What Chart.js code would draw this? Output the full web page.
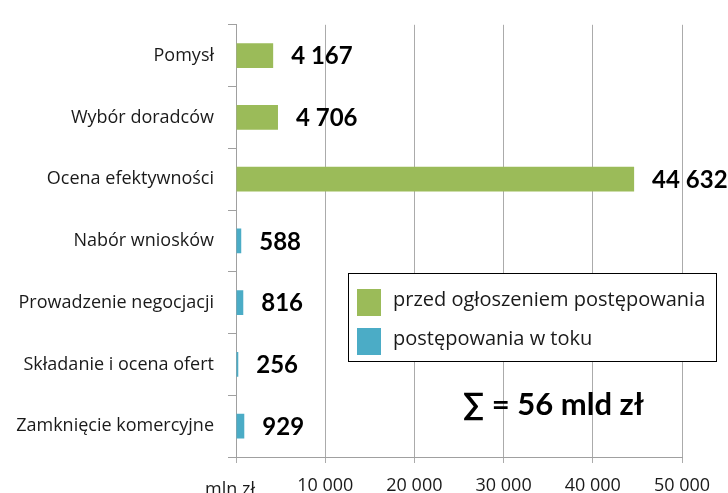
<!DOCTYPE html>
<html>
<head>
<meta charset="utf-8">
<script src="https://cdn.jsdelivr.net/npm/chart.js@4/dist/chart.umd.min.js"></script>
<style>
html,body{margin:0;padding:0;background:#fff;}
#wrap{width:728px;height:493px;position:relative;}
</style>
</head>
<body>
<div id="wrap"><canvas id="c" width="728" height="493"></canvas></div>
<script>
const categories = ["Pomysł","Wybór doradców","Ocena efektywności","Nabór wniosków","Prowadzenie negocjacji","Składanie i ocena ofert","Zamknięcie komercyjne"];
const seriesNames = ["przed ogłoszeniem postępowania","postępowania w toku"];
const beforeValues = [4167, 4706, 44632, null, null, null, null];
const ongoingValues = [null, null, null, 588, 816, 256, 929];
const xTicks = [0, 10000, 20000, 30000, 40000, 50000];
const unitLabel = "mln zł";
const totalText = "∑ = 56 mld zł";

const GREEN = '#9BBB59', BLUE = '#4BACC6';
const FONT = '"Open Sans", Lato, sans-serif';
const BFONT = 'Lato, "Open Sans", sans-serif';

function fmt(v){ return String(v).replace(/\B(?=(\d{3})+(?!\d))/g, ' '); }

const labelPlugin = {
  id:'valueLabels',
  afterDatasetsDraw(chart){
    const ctx = chart.ctx;
    ctx.save();
    ctx.font = 'bold 24px ' + BFONT;
    ctx.fillStyle = '#000';
    ctx.textAlign = 'left';
    ctx.textBaseline = 'middle';
    chart.data.datasets.forEach((ds, di) => {
      const meta = chart.getDatasetMeta(di);
      meta.data.forEach((el, i) => {
        const v = ds.data[i];
        if (v === null || v === undefined) return;
        ctx.fillText(fmt(v), el.x + 18, el.y + 1);
      });
    });
    ctx.restore();
  }
};

const legendPlugin = {
  id:'boxLegend',
  afterDraw(chart){
    const ctx = chart.ctx;
    ctx.save();
    ctx.fillStyle = '#fff';
    ctx.fillRect(348, 273, 368, 88);
    ctx.strokeStyle = '#000';
    ctx.lineWidth = 1;
    ctx.strokeRect(348.5, 273.5, 368, 88);
    const colors = [GREEN, BLUE];
    const ys = [289, 328];
    ctx.font = '20px ' + FONT;
    ctx.textBaseline = 'middle';
    ctx.textAlign = 'left';
    seriesNames.forEach((n, i) => {
      ctx.fillStyle = colors[i];
      ctx.fillRect(357, ys[i], 24, 27);
      ctx.fillStyle = '#1a1a1a';
      ctx.fillText(n, 393, ys[i] + 11);
    });
    ctx.font = 'bold 31px ' + BFONT;
    ctx.fillStyle = '#000';
    ctx.fillText(totalText, 463, 405);
    ctx.font = '18px ' + FONT;
    ctx.fillStyle = '#1a1a1a';
    ctx.textAlign = 'center';
    ctx.fillText(unitLabel, 230, 490);
    ctx.restore();
  }
};

new Chart(document.getElementById('c'), {
  type:'bar',
  data:{
    labels: categories,
    datasets:[
      {label: seriesNames[0], data: beforeValues, backgroundColor: GREEN, barPercentage:0.4, categoryPercentage:1.0},
      {label: seriesNames[1], data: ongoingValues, backgroundColor: BLUE, barPercentage:0.4, categoryPercentage:1.0}
    ]
  },
  options:{
    indexAxis:'y',
    responsive:false,
    animation:false,
    layout:{padding:{left:0,right:46,top:15,bottom:0}},
    plugins:{legend:{display:false}, tooltip:{enabled:false}},
    scales:{
      x:{
        stacked:true,
        min:0, max:50000,
        afterBuildTicks(scale){ scale.ticks = xTicks.map(v => ({value:v})); },
        afterFit(scale){ scale.height = 36; },
        grid:{color:'#ababab', lineWidth:1, tickLength:6, drawTicks:true},
        border:{color:'#a0a0a0'},
        ticks:{
          color:'#1a1a1a', font:{family:FONT, size:18}, padding:12,
          callback(v){ return v === 0 ? '' : fmt(v); }
        }
      },
      y:{
        stacked:true,
        afterFit(scale){ scale.width = 236; },
        grid:{drawOnChartArea:false, drawTicks:true, tickLength:8, offset:true, color:'#a0a0a0'},
        border:{color:'#a0a0a0'},
        ticks:{color:'#1a1a1a', font:{family:FONT, size:18}, padding:14}
      }
    }
  },
  plugins:[labelPlugin, legendPlugin]
});
</script>
</body>
</html>
